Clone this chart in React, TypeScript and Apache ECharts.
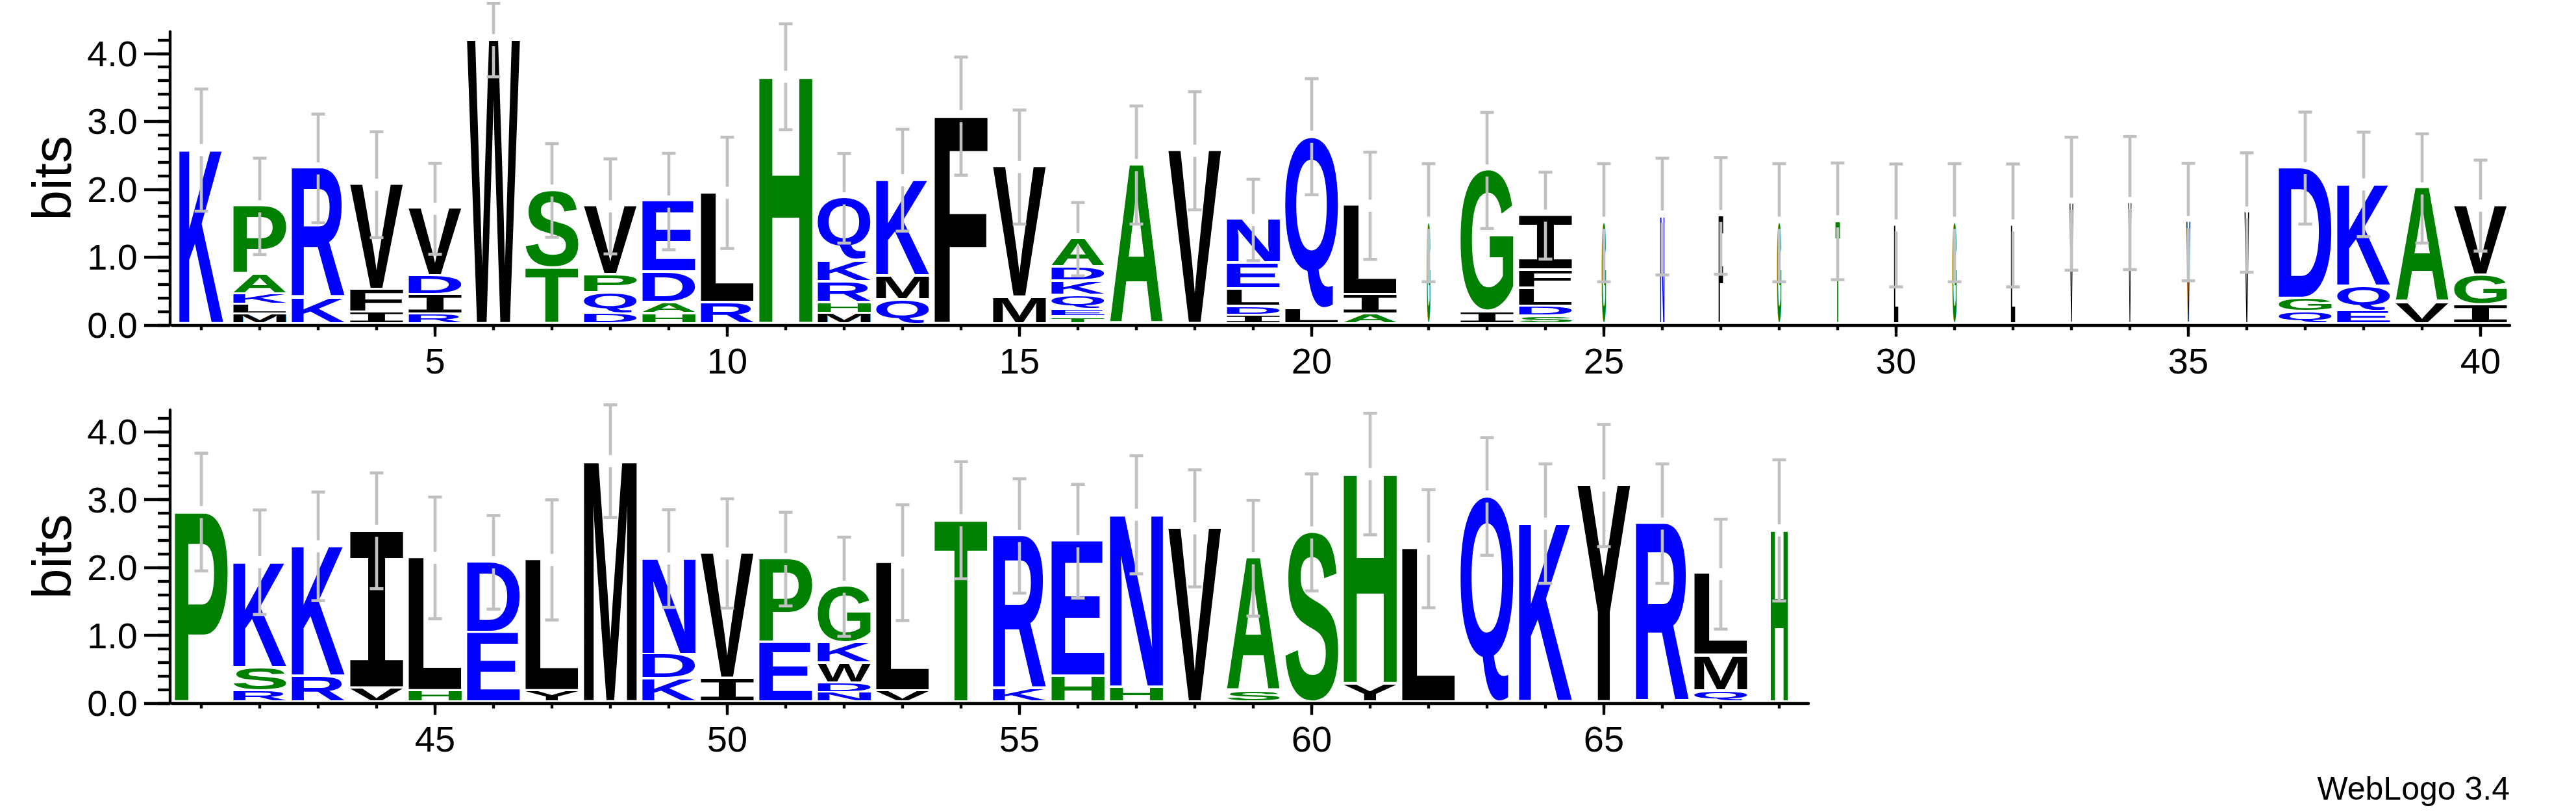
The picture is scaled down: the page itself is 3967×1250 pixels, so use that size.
import React, { useEffect, useRef } from "react";
import * as echarts from "echarts";

// ---------------- data ----------------
// Sequence logo, positions 1..68. Letters listed bottom -> top, heights in bits.
const stackLetters: string[] = [
  "K", "MLKAP", "KR", "IFV", "RIDV", "W", "TS", "DQPV", "HADE", "RL",
  "H", "MHRKQ", "QMK", "F", "MV", "TEQKDA", "A", "V", "IDLEN", "LQ",
  "AIL", "G", "IG", "SDLFI", "G", "N", "F", "G", "T", "L",
  "G", "L", "V", "V", "V", "V", "QGD", "EQK", "VA", "IGV",
  "P", "RSK", "RK", "VI", "HL", "ED", "YL", "M", "KDN", "IV",
  "EP", "NDWKG", "VL", "T", "KR", "HE", "HN", "V", "SA", "S",
  "YH", "L", "Q", "K", "Y", "R", "QML", "H",
];

const stackHeights: number[][] = [
  [2.57], [0.14, 0.146, 0.155, 0.29, 1.01], [0.38, 1.92], [0.17, 0.34, 1.55], [0.14, 0.29, 0.275, 1.0],
  [4.19], [0.825, 1.15], [0.155, 0.3, 0.27, 1.015], [0.15, 0.16, 0.447, 1.055], [0.32, 1.62],
  [3.65], [0.155, 0.16, 0.31, 0.31, 0.925], [0.356, 0.35, 1.42], [3.07], [0.39, 1.93],
  [0.1, 0.107, 0.21, 0.21, 0.21, 0.42], [2.35], [2.56], [0.123, 0.13, 0.26, 0.38, 0.647], [0.227, 2.54],
  [0.14, 0.29, 1.32], [1.5], [0.18, 2.09], [0.113, 0.146, 0.27, 0.265, 0.81], [1.5],
  [1.59], [1.6], [1.5], [1.52], [1.46],
  [1.5], [1.46], [1.78], [1.79], [1.51],
  [1.65], [0.18, 0.195, 1.93], [0.19, 0.365, 1.51], [0.32, 1.685], [0.285, 0.437, 1.03],
  [2.81], [0.165, 0.346, 1.56], [0.375, 1.93], [0.204, 2.33], [0.165, 1.97],
  [1.03, 1.04], [0.165, 1.94], [3.56], [0.343, 0.362, 1.42], [0.35, 1.85],
  [0.877, 1.24], [0.14, 0.14, 0.29, 0.3, 0.84], [0.165, 1.9], [2.69], [0.188, 2.27],
  [0.38, 2.0], [0.22, 2.55], [2.57], [0.16, 1.97], [2.51],
  [0.27, 3.1], [2.27], [3.04], [2.64], [3.2],
  [2.64], [0.165, 0.52, 1.21], [2.54],
];

// fraction of the full stack width (columns with many gaps are narrower)
const stackWidths: number[] = [
  0.83, 1, 1, 1, 1, 1, 1, 1, 1, 1,
  1, 1, 1, 1, 1, 1, 1, 1, 1, 1,
  1, 0.065, 1, 1, 0.08, 0.08, 0.085, 0.08, 0.085, 0.08,
  0.08, 0.08, 0.07, 0.06, 0.073, 0.085, 1, 1, 1, 1,
  1, 1, 1, 1, 1, 1, 1, 1, 1, 1,
  1, 1, 1, 1, 1, 1, 1, 1, 1, 1,
  1, 1, 1, 1, 1, 1, 1, 0.32,
];

// half length of the grey error bar, in bits
const errorHalf: number[] = [
  0.9, 0.71, 0.8, 0.78, 0.67, 0.54, 0.69, 0.7, 0.71, 0.82,
  0.78, 0.66, 0.75, 0.87, 0.84, 0.54, 0.87, 0.87, 0.6, 0.855,
  0.79, 0.87, 0.855, 0.64, 0.87, 0.86, 0.86, 0.87, 0.86, 0.905,
  0.87, 0.905, 0.98, 0.98, 0.865, 0.88, 0.825, 0.77, 0.805, 0.67,
  0.867, 0.77, 0.8, 0.853, 0.896, 0.69, 0.885, 0.83, 0.72, 0.805,
  0.69, 0.73, 0.853, 0.862, 0.843, 0.837, 0.87, 0.862, 0.853, 0.862,
  0.895, 0.87, 0.867, 0.88, 0.9, 0.88, 0.81, 1.04,
];

const row1Range = [1, 40];
const row2Range = [41, 68];
const row1LabelTicks = [5, 10, 15, 20, 25, 30, 35, 40];
const row2LabelTicks = [45, 50, 55, 60, 65];
const yLabelTicks = [0, 1, 2, 3, 4];
const yMinorTicks = [0, 0.2, 0.4, 0.6, 0.8, 1, 1.2, 1.4, 1.6, 1.8, 2, 2.2, 2.4, 2.6, 2.8, 3, 3.2, 3.4, 3.6, 3.8, 4, 4.2];
const yMax = 4.3219;
const yAxisName = "bits";
const footer = "WebLogo 3.4";

// ---------------- styles ----------------
const ALPHABET = "ACDEFGHIKLMNPQRSTVWY";
const BLUE = "#0000ff";
const GREEN = "#008000";
const BLACK = "#000000";
const colorOf = (ch: string) =>
  "RKDENQ".includes(ch) ? BLUE : "SGHTAP".includes(ch) ? GREEN : BLACK;

const SANS = '"Liberation Sans", Arial, Helvetica, sans-serif';
const GLYPH_BASE = 200;
const fontOf = (ch: string) =>
  ch === "I"
    ? `bold ${GLYPH_BASE}px "Liberation Mono", "DejaVu Sans Mono", monospace`
    : `bold ${GLYPH_BASE}px ${SANS}`;
const STACK_WIDTH = 0.907; // fraction of one position
const GAP_PX = 3.7; // white gap above each letter
const LIFT_PX = 4.4; // letters start above axis line
const ERR_GAP_PX = 9.3; // hole in the error bar around the stack top
const ERR_CAP_PX = 10.5;
const ERR_COLOR = "#c0c0c0";
const AXIS_W = 4.4;
const LABEL_FONT = 56;

type Glyph = { l: number; r: number; top: number; bottom: number };

// offset (px, downwards) of the alphabetic baseline from the SVG "central" baseline
function centralOffset(font: string): number {
  const fallback = 0.42 * GLYPH_BASE;
  try {
    const ns = "http://www.w3.org/2000/svg";
    const svg = document.createElementNS(ns, "svg");
    svg.setAttribute("width", "2000");
    svg.setAttribute("height", "2000");
    svg.setAttribute("style", "position:absolute;left:-6000px;top:0;visibility:hidden");
    const mk = (baseline: string | null) => {
      const t = document.createElementNS(ns, "text");
      t.setAttribute("x", "100");
      t.setAttribute("y", "1000");
      if (baseline) t.setAttribute("dominant-baseline", baseline);
      t.setAttribute("style", `font: ${font}`);
      t.textContent = "HQ";
      svg.appendChild(t);
      return t;
    };
    const tc = mk("central");
    const ta = mk(null);
    document.body.appendChild(svg);
    const bc = tc.getBBox();
    const ba = ta.getBBox();
    document.body.removeChild(svg);
    const c = bc.y - ba.y;
    if (!isFinite(c) || c < 0.2 * GLYPH_BASE || c > 0.6 * GLYPH_BASE) return fallback;
    return c;
  } catch (e) {
    return fallback;
  }
}

function measureGlyphs(): Record<string, Glyph> {
  const canvas = document.createElement("canvas");
  const ctx = canvas.getContext("2d")!;
  ctx.textBaseline = "alphabetic";
  ctx.textAlign = "left";
  const cache: Record<string, number> = {};
  const out: Record<string, Glyph> = {};
  for (const ch of ALPHABET) {
    const f = fontOf(ch);
    if (cache[f] === undefined) cache[f] = centralOffset(f);
    const c = cache[f];
    ctx.font = f;
    const m = ctx.measureText(ch);
    out[ch] = {
      l: m.actualBoundingBoxLeft,
      r: m.actualBoundingBoxRight,
      top: c - m.actualBoundingBoxAscent, // relative to the central point, y down
      bottom: c + m.actualBoundingBoxDescent,
    };
  }
  return out;
}

function buildRow(first: number, last: number) {
  const letters: number[][] = [];
  const errs: number[][] = [];
  for (let p = first; p <= last; p++) {
    const i = p - 1;
    const ls = stackLetters[i];
    const hs = stackHeights[i];
    let acc = 0;
    for (let k = 0; k < ls.length; k++) {
      letters.push([p, acc, acc + hs[k], ALPHABET.indexOf(ls[k]), stackWidths[i]]);
      acc += hs[k];
    }
    errs.push([p, acc, errorHalf[i]]);
  }
  return { letters, errs };
}

export default function App() {
  const ref = useRef<HTMLDivElement>(null);
  useEffect(() => {
    if (!ref.current) return;
    const chart = echarts.init(ref.current, undefined, { renderer: "svg" });
    const glyphs = measureGlyphs();

    const letterRender = (params: any, api: any) => {
      const pos = api.value(0);
      const b0 = api.value(1);
      const b1 = api.value(2);
      const ch = ALPHABET[api.value(3)];
      const wf = api.value(4);
      const unit = api.size([1, 0])[0];
      const cx = api.coord([pos, b0])[0];
      const yBottom = api.coord([pos, b0])[1] - LIFT_PX;
      const yTop = api.coord([pos, b1])[1] - LIFT_PX + GAP_PX;
      const H = yBottom - yTop;
      const W = unit * STACK_WIDTH * wf;
      if (H <= 0.3) return null;
      const g = glyphs[ch];
      const sx = W / (g.l + g.r);
      const sy = H / (g.bottom - g.top);
      return {
        type: "text",
        x: cx - W / 2 + g.l * sx,
        y: yTop - g.top * sy,
        scaleX: sx,
        scaleY: sy,
        style: {
          text: ch,
          x: 0,
          y: 0,
          font: fontOf(ch),
          fill: colorOf(ch),
          align: "left",
          verticalAlign: "middle",
          textAlign: "left",
          textVerticalAlign: "middle",
        },
        silent: true,
      };
    };

    const errRender = (params: any, api: any) => {
      const pos = api.value(0);
      const top = api.value(1);
      const e = api.value(2);
      const [cx, yStack] = api.coord([pos, top]);
      const yc = yStack - LIFT_PX + GAP_PX;
      const ePx = api.size([0, e])[1];
      const yHi = yc - ePx;
      const yLo = yc + ePx;
      const st = { stroke: ERR_COLOR, lineWidth: 4.6 };
      const children: any[] = [
        { type: "line", shape: { x1: cx, y1: yHi, x2: cx, y2: yc - ERR_GAP_PX }, style: st },
        { type: "line", shape: { x1: cx, y1: yc + ERR_GAP_PX, x2: cx, y2: yLo }, style: st },
        { type: "line", shape: { x1: cx - ERR_CAP_PX, y1: yHi, x2: cx + ERR_CAP_PX, y2: yHi }, style: st },
        { type: "line", shape: { x1: cx - ERR_CAP_PX, y1: yLo, x2: cx + ERR_CAP_PX, y2: yLo }, style: st },
      ];
      return { type: "group", children, silent: true };
    };

    const rows = [buildRow(row1Range[0], row1Range[1]), buildRow(row2Range[0], row2Range[1])];
    const ranges = [row1Range, row2Range];
    const labelTicks = [row1LabelTicks, row2LabelTicks];
    const UNIT = 90;
    const PLOT_H = yMax * 104.5;
    const zeroY = [500.3, 1082.6];

    const grids = ranges.map((r, i) => ({
      left: 265,
      top: zeroY[i] - PLOT_H,
      width: (r[1] - r[0] + 1) * UNIT,
      height: PLOT_H,
      containLabel: false,
    }));

    const xAxes: any[] = [];
    const yAxes: any[] = [];
    ranges.forEach((r, i) => {
      const allPos: number[] = [];
      for (let p = r[0]; p <= r[1]; p++) allPos.push(p);
      xAxes.push({
        type: "value",
        gridIndex: i,
        position: "bottom",
        min: r[0] - 0.5,
        max: r[1] + 0.5,
        axisLine: { show: true, onZero: false, lineStyle: { color: BLACK, width: AXIS_W } },
        axisTick: { show: true, customValues: allPos, length: 8, lineStyle: { color: BLACK, width: 4.4 } },
        axisLabel: { show: false },
        splitLine: { show: false },
      });
      xAxes.push({
        type: "value",
        gridIndex: i,
        position: "bottom",
        min: r[0] - 0.5,
        max: r[1] + 0.5,
        axisLine: { show: false, onZero: false },
        axisTick: { show: true, customValues: labelTicks[i], length: 18, lineStyle: { color: BLACK, width: 4.4 } },
        axisLabel: {
          show: true,
          customValues: labelTicks[i],
          margin: 27,
          fontSize: LABEL_FONT,
          fontFamily: SANS,
          color: BLACK,
          formatter: (v: number) => String(v),
        },
        splitLine: { show: false },
      });
      yAxes.push({
        type: "value",
        gridIndex: i,
        position: "left",
        offset: 3,
        min: 0,
        max: yMax,
        name: yAxisName,
        nameLocation: "middle",
        nameRotate: 90,
        nameGap: 140,
        nameTextStyle: { fontSize: 84, fontFamily: SANS, fontWeight: "normal", color: BLACK },
        axisLine: { show: true, lineStyle: { color: BLACK, width: AXIS_W } },
        axisTick: { show: true, customValues: yLabelTicks, length: 40, lineStyle: { color: BLACK, width: 4.4 } },
        axisLabel: {
          show: true,
          customValues: yLabelTicks,
          margin: 50,
          fontSize: LABEL_FONT,
          fontFamily: SANS,
          color: BLACK,
          formatter: (v: number) => v.toFixed(1),
        },
        splitLine: { show: false },
      });
      yAxes.push({
        type: "value",
        gridIndex: i,
        position: "left",
        offset: 3,
        min: 0,
        max: yMax,
        axisLine: { show: false },
        axisTick: { show: true, customValues: yMinorTicks, length: 19, lineStyle: { color: BLACK, width: 4.4 } },
        axisLabel: { show: false },
        splitLine: { show: false },
      });
    });

    const series: any[] = [];
    rows.forEach((row, i) => {
      series.push({
        type: "custom",
        xAxisIndex: i * 2,
        yAxisIndex: i * 2,
        renderItem: letterRender,
        data: row.letters,
        encode: { x: 0, y: [1, 2] },
        z: 2,
        clip: false,
      });
      series.push({
        type: "custom",
        xAxisIndex: i * 2,
        yAxisIndex: i * 2,
        renderItem: errRender,
        data: row.errs,
        encode: { x: 0, y: 1 },
        z: 3,
        clip: false,
      });
    });

    chart.setOption({
      animation: false,
      backgroundColor: "#ffffff",
      grid: grids,
      xAxis: xAxes,
      yAxis: yAxes,
      series,
      graphic: [
        {
          type: "text",
          x: 3865,
          y: 1214,
          style: {
            text: footer,
            fontSize: 50,
            fontFamily: SANS,
            fill: BLACK,
            align: "right",
            verticalAlign: "middle",
            textAlign: "right",
            textVerticalAlign: "middle",
          },
        },
      ],
    });
    return () => chart.dispose();
  }, []);

  return (
    <div
      ref={ref}
      style={{ position: "absolute", left: 0, top: 0, width: 3967, height: 1250, background: "#fff" }}
    />
  );
}
